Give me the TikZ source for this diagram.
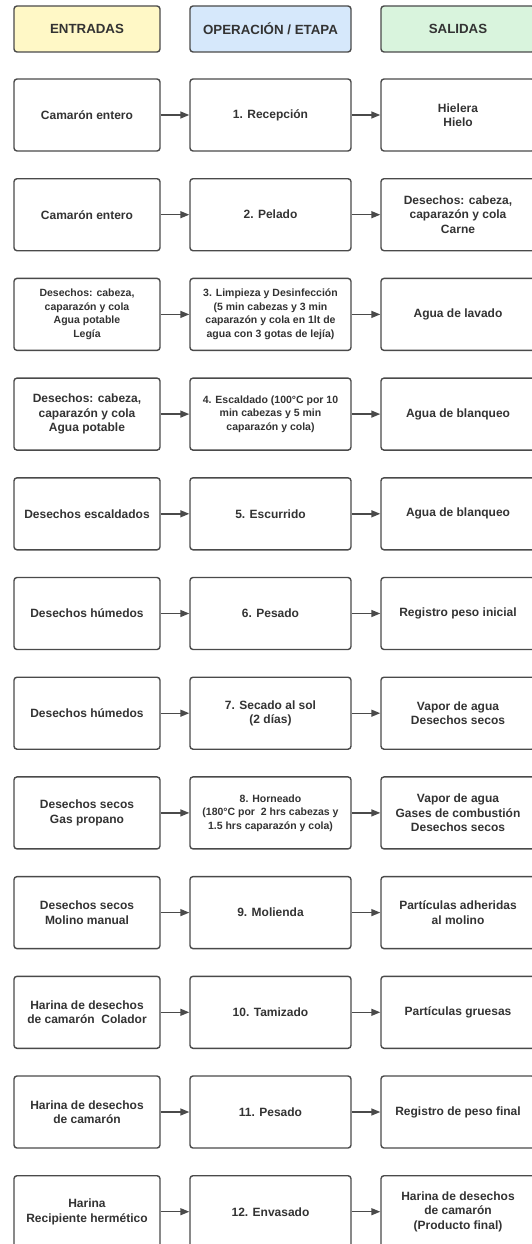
\documentclass[tikz,border=0pt]{standalone}
\usepackage{fontspec}
\setmainfont{Liberation Sans}
\usetikzlibrary{arrows.meta}
\definecolor{ink}{HTML}{333333}
\definecolor{edge}{HTML}{4A4A4A}
\definecolor{paleyellow}{HTML}{FFF8C6}
\definecolor{paleblue}{HTML}{D6E8FB}
\definecolor{palegreen}{HTML}{D9F4DD}
\newcommand{\fhead}{\fontsize{13.3}{16}\selectfont\bfseries}
\newcommand{\fbig}{\fontsize{12}{14.5}\selectfont\bfseries}
\newcommand{\fsmall}{\fontsize{10.5}{13.5}\selectfont\bfseries}

\begin{document}
\begin{tikzpicture}[x=1pt,y=-1pt,
    box/.style={draw=edge,line width=1.4pt,rounded corners=3pt,fill=white,
      align=center,text=ink,minimum height=72pt,inner sep=2pt},
    flow/.style={draw=edge,line width=1.4pt,-{Triangle[length=9pt,width=7pt]}}]
  \useasboundingbox (0,0) rectangle (532,1244);
  \clip (0,0) rectangle (532,1244);
  % cabeceras
  \node[box,fill=paleyellow,minimum width=146pt,minimum height=46pt,font=\fhead] (hin) at (87,29) {ENTRADAS};
  \node[box,fill=paleblue,minimum width=161pt,minimum height=46pt,font=\fhead] (hop) at (270.5,29) {OPERACIÓN / ETAPA};
  \node[box,fill=palegreen,minimum width=154pt,minimum height=46pt,font=\fhead] (hout) at (458,29) {SALIDAS};
  % etapas del proceso
  \foreach \i/\fa/\a/\fb/\b/\c in {
      1/\fbig/{Camarón entero}/\fbig/{1. Recepción}/{Hielera\\Hielo},
      2/\fbig/{Camarón entero}/\fbig/{2. Pelado}/{Desechos: cabeza,\\caparazón y cola\\Carne},
      3/\fsmall/{Desechos: cabeza,\\caparazón y cola\\Agua potable\\Legía}/\fsmall/{3. Limpieza y Desinfección\\(5 min cabezas y 3 min\\caparazón y cola en 1lt de\\agua con 3 gotas de lejía)}/{Agua de lavado},
      4/\fbig/{Desechos: cabeza,\\caparazón y cola\\Agua potable}/\fsmall/{4. Escaldado (100°C por 10\\min cabezas y 5 min\\caparazón y cola)}/{Agua de blanqueo},
      5/\fbig/{Desechos escaldados}/\fbig/{5. Escurrido}/{Agua de blanqueo},
      6/\fbig/{Desechos húmedos}/\fbig/{6. Pesado}/{Registro peso inicial},
      7/\fbig/{Desechos húmedos}/\fbig/{7. Secado al sol\\(2 días)}/{Vapor de agua\\Desechos secos},
      8/\fbig/{Desechos secos\\Gas propano}/\fsmall/{8. Horneado\\(180°C por~ 2 hrs cabezas y\\1.5 hrs caparazón y cola)}/{Vapor de agua\\Gases de combustión\\Desechos secos},
      9/\fbig/{Desechos secos\\Molino manual}/\fbig/{9. Molienda}/{Partículas adheridas\\al molino},
      10/\fbig/{Harina de desechos\\de camarón~ Colador}/\fbig/{10. Tamizado}/{Partículas gruesas},
      11/\fbig/{Harina de desechos\\de camarón}/\fbig/{11. Pesado}/{Registro de peso final},
      12/\fbig/{Harina\\Recipiente hermético}/\fbig/{12. Envasado}/{Harina de desechos\\de camarón\\(Producto final)}}{
    \pgfmathsetmacro{\yc}{115+99.7*(\i-1)}
    \node[box,minimum width=146pt,font=\fa] (in\i) at (87,\yc) {\a};
    \node[box,minimum width=161pt,font=\fb] (op\i) at (270.5,\yc) {\b};
    \node[box,minimum width=154pt,font=\fbig] (out\i) at (458,\yc) {\c};
    \draw[flow] (in\i) -- (op\i);
    \draw[flow] (op\i) -- (out\i);
  }
\end{tikzpicture}
\end{document}
